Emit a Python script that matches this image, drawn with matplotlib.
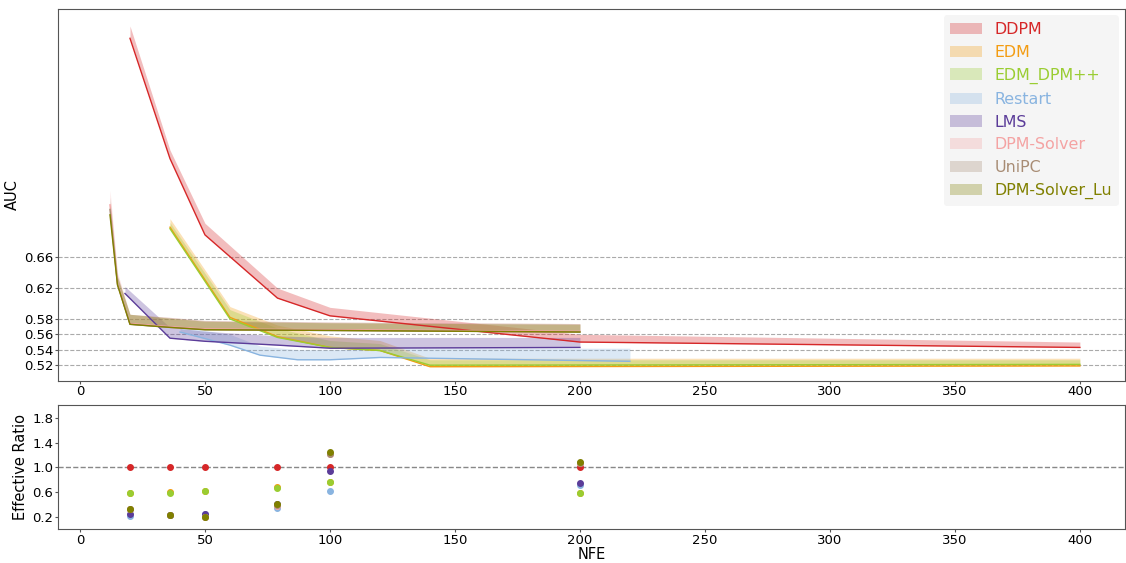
import matplotlib
matplotlib.use('Agg')
import matplotlib.pyplot as plt
import numpy as np

# --- AUC curves (line = lower edge of band, band upper edge) ---
ddpm_x = [20, 36, 50, 79, 100, 200, 400]
ddpm_y = [0.944, 0.788, 0.689, 0.607, 0.584, 0.550, 0.543]
ddpm_up = [0.960, 0.799, 0.704, 0.620, 0.595, 0.560, 0.550]

edm_x = [36, 60, 79, 100, 120, 140, 400]
edm_y = [0.699, 0.582, 0.557, 0.543, 0.539, 0.518, 0.519]
edm_up = [0.710, 0.596, 0.572, 0.558, 0.552, 0.529, 0.529]

edmpp_x = [36, 60, 79, 100, 120, 140, 400]
edmpp_y = [0.697, 0.580, 0.556, 0.543, 0.539, 0.520, 0.521]
edmpp_up = [0.705, 0.592, 0.568, 0.552, 0.548, 0.527, 0.527]

restart_x = [40, 60, 72, 87, 100, 120, 220]
restart_y = [0.563, 0.546, 0.533, 0.527, 0.527, 0.530, 0.525]
restart_up = [0.570, 0.560, 0.545, 0.540, 0.540, 0.542, 0.542]

lms_x = [18, 36, 50, 79, 100, 200]
lms_y = [0.613, 0.555, 0.551, 0.546, 0.542, 0.543]
lms_up = [0.622, 0.569, 0.564, 0.558, 0.556, 0.556]

dpms_x = [12, 15, 20, 36, 50, 100, 200]
dpms_y = [0.728, 0.626, 0.574, 0.570, 0.567, 0.566, 0.564]
dpms_up = [0.747, 0.640, 0.586, 0.582, 0.578, 0.576, 0.574]

unipc_x = [12, 15, 20, 36, 50, 100, 200]
unipc_y = [0.722, 0.625, 0.573, 0.569, 0.566, 0.565, 0.563]
unipc_up = [0.738, 0.636, 0.586, 0.582, 0.578, 0.576, 0.574]

lu_x = [12, 15, 20, 36, 50, 100, 200]
lu_y = [0.715, 0.624, 0.573, 0.569, 0.566, 0.565, 0.563]
lu_up = [0.728, 0.634, 0.586, 0.581, 0.577, 0.575, 0.573]

# --- effective ratio ---
nfe = [20, 36, 50, 79, 100, 200]
r_ddpm = [1.0, 1.0, 1.0, 1.0, 1.0, 1.0]
r_edm = [0.59, 0.60, 0.62, 0.68, 0.77, 0.58]
r_edmpp = [0.58, 0.59, 0.61, 0.67, 0.77, 0.59]
r_restart = [0.22, 0.23, 0.24, 0.35, 0.61, 0.72]
r_lms = [0.25, 0.23, 0.24, 0.40, 0.94, 0.74]
r_dpms = [0.32, 0.23, 0.19, 0.37, 1.22, 1.07]
r_unipc = [0.33, 0.23, 0.20, 0.39, 1.22, 1.07]
r_lu = [0.32, 0.23, 0.20, 0.41, 1.245, 1.09]

names = ['DDPM', 'EDM', 'EDM_DPM++', 'Restart', 'LMS', 'DPM-Solver', 'UniPC', 'DPM-Solver_Lu']
colors = ['#d62728', '#f39c12', '#9acd32', '#89b4e0', '#5b3c99', '#f4a3a3', '#a88c74', '#808000']
curves = [(ddpm_x, ddpm_y, ddpm_up), (edm_x, edm_y, edm_up), (edmpp_x, edmpp_y, edmpp_up),
          (restart_x, restart_y, restart_up), (lms_x, lms_y, lms_up), (dpms_x, dpms_y, dpms_up),
          (unipc_x, unipc_y, unipc_up), (lu_x, lu_y, lu_up)]
ratios = [r_ddpm, r_edm, r_edmpp, r_restart, r_lms, r_dpms, r_unipc, r_lu]

fig, (ax1, ax2) = plt.subplots(2, 1, figsize=(11.26, 5.63), dpi=100,
                               gridspec_kw={'height_ratios': [3, 1]})
fig.subplots_adjust(left=0.0515, right=0.999, top=0.984, bottom=0.06, hspace=0.1)

for name, c, (x, y, up) in zip(names, colors, curves):
    ax1.fill_between(x, y, up, color=c, alpha=0.3, linewidth=0, label=name)
    ax1.plot(x, y, color=c, linewidth=1)

yt = [0.52, 0.54, 0.56, 0.58, 0.62, 0.66]
ax1.set_yticks(yt)
ax1.set_yticklabels(['%.2f' % v for v in yt])
for v in yt:
    ax1.axhline(v, color='#aaaaaa', linestyle='--', linewidth=0.8, zorder=0)
ax1.set_ylim(0.50, 0.982)
ax1.set_xlim(-8.8, 418)
ax1.set_ylabel('AUC', fontsize=10.5, labelpad=3)
leg = ax1.legend(loc='upper right', fontsize=11.4, frameon=True, facecolor='#f5f5f5',
                 edgecolor='none', framealpha=1, handlelength=2.0, labelspacing=0.5,
                 borderaxespad=0.4)
for t, c in zip(leg.get_texts(), colors):
    t.set_color(c)

for name, c, r in zip(names, colors, ratios):
    ax2.scatter(nfe, r, color=c, s=16, zorder=3)
ax2.axhline(1.0, color='#888888', linestyle='--', linewidth=1, zorder=1)
ax2.set_ylim(0, 2)
ax2.set_yticks([0.2, 0.6, 1.0, 1.4, 1.8])
ax2.set_xlim(-8.8, 418)
ax2.set_ylabel('Effective Ratio', fontsize=10.5, labelpad=3)
ax2.set_xlabel('NFE', fontsize=10.5, labelpad=0)

for ax in (ax1, ax2):
    ax.tick_params(labelsize=9.5, length=2, pad=1.5, color='#555555')
    for s in ax.spines.values():
        s.set_color('#555555')

plt.savefig('out.png')
